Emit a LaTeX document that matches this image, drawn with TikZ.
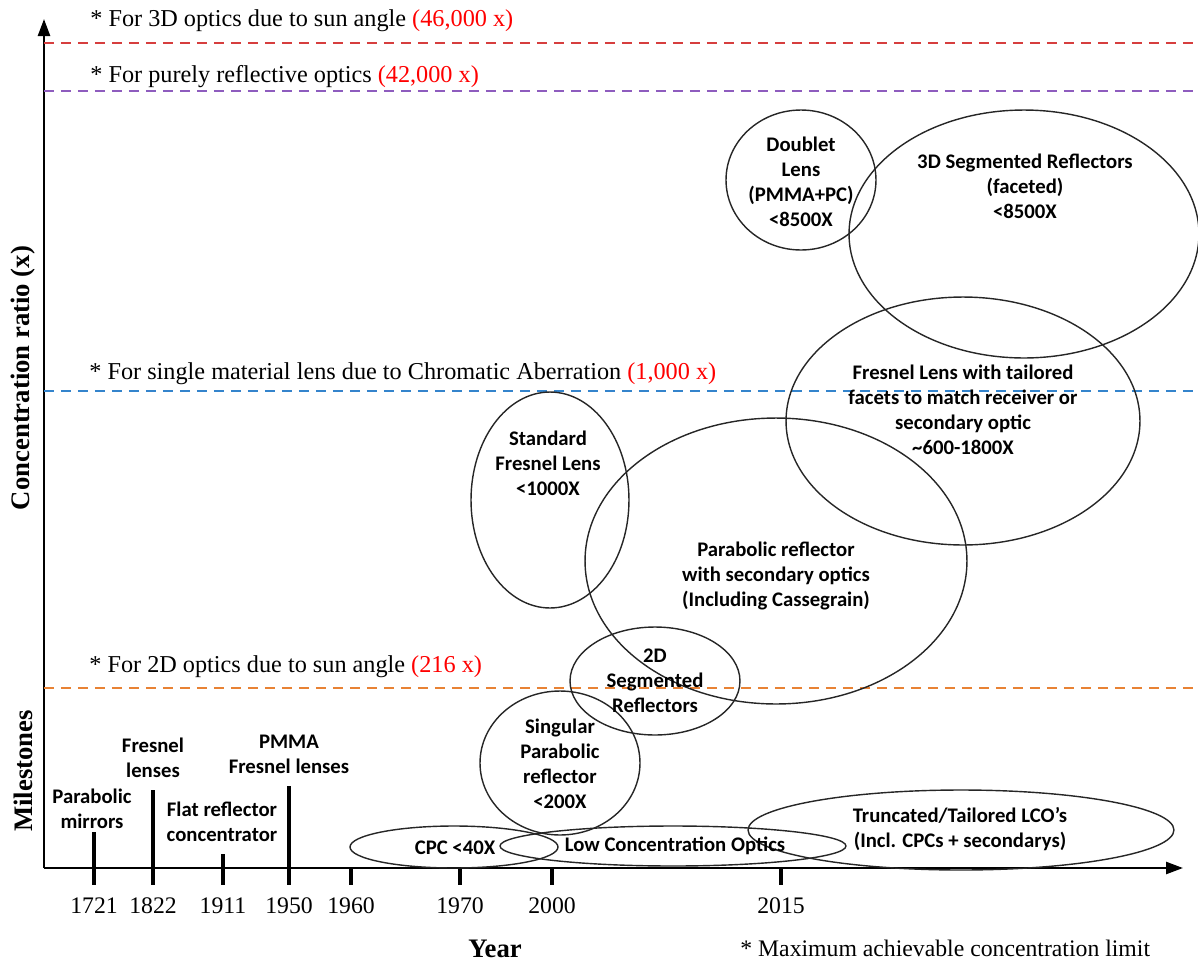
\documentclass[tikz,border=0pt]{standalone}
\usepackage{fontspec}
\setmainfont{Liberation Serif}
\newfontfamily\calibri{Carlito}
\usetikzlibrary{arrows.meta}

\definecolor{limred}{RGB}{214,62,62}
\definecolor{limpurple}{RGB}{142,92,190}
\definecolor{limblue}{RGB}{52,132,204}
\definecolor{limorange}{RGB}{232,130,52}
\definecolor{valred}{RGB}{255,0,0}

\begin{document}
\begin{tikzpicture}[x=0.02cm,y=-0.02cm,
  lbl/.style={font=\calibri\bfseries\fontsize{11.8}{14.2}\selectfont, align=center, inner sep=0pt},
  lim/.style={line width=1.1pt, dash pattern=on 0.2cm off 0.14cm},
  limtxt/.style={anchor=west, font=\fontsize{13.8}{16}\selectfont, inner sep=0pt},
  yrtxt/.style={font=\fontsize{13.5}{16}\selectfont, inner sep=0pt},
  oval/.style={line width=0.8pt, draw=black!85},
  axisline/.style={line width=1.4pt, -{Triangle[length=0.34cm,width=0.24cm]}},
  tickmark/.style={line width=2.4pt},
  axtitle/.style={font=\bfseries\fontsize{15.2}{17}\selectfont, inner sep=0pt}
]
\useasboundingbox (0,0) rectangle (1198,961);

% axes
\coordinate (O) at (44,868);
\coordinate (ytip) at (44,19);
\coordinate (xtip) at (1183,868);
\draw[axisline] (O) -- (ytip);
\draw[axisline] (O) -- (xtip);

% axis titles
\node[axtitle, rotate=90] (ytitle) at (23,378) {Concentration ratio (x)};
\node[axtitle, rotate=90] (mtitle) at (23,771) {Milestones};
\node[axtitle, anchor=base] (xtitle) at (495,957) {Year};
\node[yrtxt, anchor=west] (note) at (740,948) {* Maximum achievable concentration limit};

% concentration limits
\coordinate (l3dA) at (44,43);   \coordinate (l3dB) at (1198,43);
\coordinate (lrefA) at (44,91);  \coordinate (lrefB) at (1198,91);
\coordinate (llensA) at (44,391); \coordinate (llensB) at (1198,391);
\coordinate (l2dA) at (44,688);  \coordinate (l2dB) at (1198,688);
\draw[lim, limred] (l3dA) -- (l3dB);
\draw[lim, limpurple] (lrefA) -- (lrefB);
\draw[lim, limblue] (llensA) -- (llensB);
\draw[lim, limorange] (l2dA) -- (l2dB);
\node[limtxt] (t3d) at (90,21) {* For 3D optics due to sun angle \textcolor{valred}{(46,000 x)}};
\node[limtxt] (tref) at (90,77) {* For purely reflective optics \textcolor{valred}{(42,000 x)}};
\node[limtxt] (tlens) at (89,374) {* For single material lens due to Chromatic Aberration \textcolor{valred}{(1,000 x)}};
\node[limtxt] (t2d) at (89,667) {* For 2D optics due to sun angle \textcolor{valred}{(216 x)}};

% milestone bars and year ticks
\foreach \nm/\xx/\top/\yr in {a/94/832/1721, b/153/790/1822, c/223/854/1911, d/289/786/1950, e/351/868/1960, f/460/868/1970, g/552/868/2000, h/781/868/2015}{
  \coordinate (tk\nm top) at (\xx,\top);
  \coordinate (tk\nm bot) at (\xx,885);
  \draw[tickmark] (tk\nm top) -- (tk\nm bot);
  \node[yrtxt] (yr\nm) at (\xx,906) {\yr};
}

% milestone labels
\node[lbl] (mpara) at (92,809) {Parabolic\\mirrors};
\node[lbl] (mfres) at (153,758) {Fresnel\\lenses};
\node[lbl] (mflat) at (222,822) {Flat reflector\\concentrator};
\node[lbl] (mpmma) at (289,754) {PMMA\\Fresnel lenses};

% optics families
\draw[oval] (801,180) ellipse [x radius=1.5cm, y radius=1.4cm];
\draw[oval] (1024,234) ellipse [x radius=3.5cm, y radius=2.48cm];
\draw[oval] (963,421) ellipse [x radius=3.54cm, y radius=2.48cm];
\draw[oval] (550,500) ellipse [x radius=1.58cm, y radius=2.16cm];
\draw[oval] (776,561) ellipse [x radius=3.82cm, y radius=2.86cm];
\draw[oval] (655,681) ellipse [x radius=1.7cm, y radius=1.08cm];
\draw[oval] (560,763) ellipse [x radius=1.6cm, y radius=1.44cm];
\draw[oval] (454,847) ellipse [x radius=2.08cm, y radius=0.42cm];
\draw[oval] (673,846) ellipse [x radius=3.46cm, y radius=0.4cm];
\draw[oval] (961,830) ellipse [x radius=4.26cm, y radius=0.8cm];

\node[lbl] (doublet) at (801,182) {Doublet\\Lens\\(PMMA+PC)\\<8500X};
\node[lbl] (seg3d) at (1025,186) {3D Segmented Reflectors\\(faceted)\\<8500X};
\node[lbl] (tailored) at (963,410) {Fresnel Lens with tailored\\facets to match receiver or\\secondary optic\\\textasciitilde600-1800X};
\node[lbl] (stdfres) at (548,463) {Standard\\Fresnel Lens\\<1000X};
\node[lbl] (parab) at (776,576) {Parabolic reflector\\with secondary optics\\(Including Cassegrain)};
\node[lbl] (seg2d) at (655,681) {2D\\Segmented\\Reflectors};
\node[lbl] (singular) at (560,764) {Singular\\Parabolic\\reflector\\<200X};
\node[lbl] (cpc) at (455,848) {CPC <40X};
\node[lbl] (lco) at (675,846) {Low Concentration Optics};
\node[lbl] (trunc) at (960,829) {Truncated/Tailored LCO’s\\(Incl. CPCs + secondarys)};
\end{tikzpicture}
\end{document}
